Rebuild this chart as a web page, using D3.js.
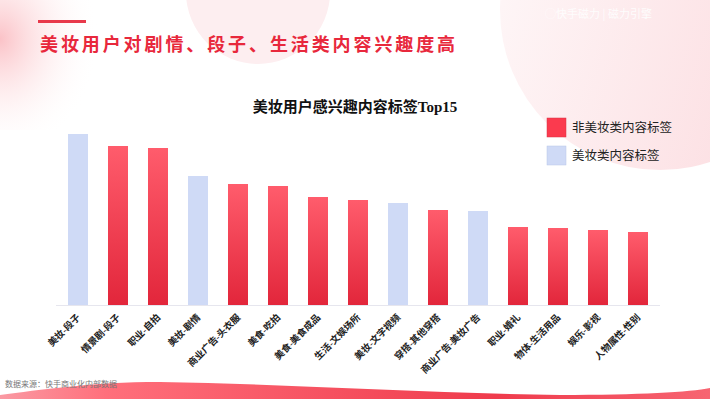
<!DOCTYPE html>
<html>
<head>
<meta charset="utf-8">
<script src="https://cdn.jsdelivr.net/npm/d3@7"></script>
<style>
  body { margin: 0; background: #fff; }
  svg { display: block; }
</style>
</head>
<body>
<div id="chart"></div>
<script>
// data (relative heights, no axis shown)
const categories = ["美妆-段子", "情景剧-段子", "职业-自拍", "美妆-剧情", "商业广告-头衣服", "美食-吃拍",
  "美食-美食成品", "生活-文娱场所", "美妆-文字视频", "穿搭-其他穿搭", "商业广告-美妆广告",
  "职业-婚礼", "物体-生活用品", "娱乐-影视", "人物属性-性别"];
const values = [171, 159, 157, 129, 121, 119, 108, 105, 102, 95, 94, 78, 77, 75, 73];
const isBeauty = [true, false, false, true, false, false, false, false, true, false, true, false, false, false, false];
const legendLabels = ["非美妆类内容标签", "美妆类内容标签"];

const W = 710, H = 399;
const svg = d3.select("#chart").append("svg").attr("width", W).attr("height", H);
const defs = svg.append("defs");

const redGrad = defs.append("linearGradient").attr("id", "redBar")
  .attr("x1", 0).attr("y1", 0).attr("x2", 0).attr("y2", 1);
redGrad.append("stop").attr("offset", "0%").attr("stop-color", "#ff5c6c");
redGrad.append("stop").attr("offset", "100%").attr("stop-color", "#e2263b");

const cornerL = defs.append("radialGradient").attr("id", "cornerL")
  .attr("cx", 0).attr("cy", 0.3).attr("r", 0.9);
cornerL.append("stop").attr("offset", "0%").attr("stop-color", "#fbc2c7");
cornerL.append("stop").attr("offset", "100%").attr("stop-color", "#fff").attr("stop-opacity", 0);

const cornerR = defs.append("linearGradient").attr("id", "cornerR")
  .attr("x1", 0).attr("y1", 0).attr("x2", 1).attr("y2", 0.3);
cornerR.append("stop").attr("offset", "0%").attr("stop-color", "#fef6f7");
cornerR.append("stop").attr("offset", "100%").attr("stop-color", "#fbd0d5");

const waveGrad = defs.append("linearGradient").attr("id", "wave")
  .attr("x1", 0).attr("y1", 0).attr("x2", 1).attr("y2", 0);
waveGrad.append("stop").attr("offset", "0%").attr("stop-color", "#fa9aa3");
waveGrad.append("stop").attr("offset", "15%").attr("stop-color", "#ff6f7b");
waveGrad.append("stop").attr("offset", "70%").attr("stop-color", "#ef3b4c");
waveGrad.append("stop").attr("offset", "100%").attr("stop-color", "#f76572");

// background decoration
svg.append("rect").attr("width", 110).attr("height", 130).attr("fill", "url(#cornerL)");
svg.append("circle").attr("cx", 258).attr("cy", -8).attr("r", 72).attr("fill", "#fdeef0");
svg.append("circle").attr("cx", 660).attr("cy", 10).attr("r", 160).attr("fill", "url(#cornerR)").attr("opacity", 0.7);

svg.append("path")
  .attr("d", "M0,399 L0,395 C40,390 90,382 160,382 C290,384 420,393 560,395 C640,395 690,392 710,388 L710,399 Z")
  .attr("fill", "url(#wave)");

// header
svg.append("rect").attr("x", 38).attr("y", 20).attr("width", 48).attr("height", 3).attr("fill", "#e8394b");
svg.append("text").attr("x", 40).attr("y", 51)
  .attr("font-family", "'Noto Sans CJK SC', sans-serif").attr("font-weight", "bold")
  .attr("font-size", 18).attr("letter-spacing", 2.9).attr("fill", "#e8283c")
  .text("美妆用户对剧情、段子、生活类内容兴趣度高");

// logo area (faint)
svg.append("text").attr("x", 545).attr("y", 18)
  .attr("font-family", "'Noto Sans CJK SC', sans-serif").attr("font-size", 11)
  .attr("fill", "#fff").attr("opacity", 0.9).text("◯快手磁力 | 磁力引擎");

svg.append("text").attr("x", 355).attr("y", 112).attr("text-anchor", "middle")
  .attr("font-family", "'Liberation Serif', 'Noto Sans CJK SC', serif").attr("font-weight", "bold")
  .attr("font-size", 15).attr("fill", "#111")
  .text("美妆用户感兴趣内容标签Top15");

// chart
const x = d3.scaleBand().domain(categories).range([58, 658]).paddingInner(0.5).paddingOuter(0.25);
const y = d3.scaleLinear().domain([0, 171]).range([305, 134]);

svg.append("line").attr("x1", 56).attr("x2", 660).attr("y1", 305.5).attr("y2", 305.5)
  .attr("stroke", "#e6e6ee").attr("stroke-width", 1);

svg.selectAll(".bar").data(values).enter().append("rect")
  .attr("class", "bar")
  .attr("x", (d, i) => x(categories[i]))
  .attr("y", d => y(d))
  .attr("width", x.bandwidth())
  .attr("height", d => y(0) - y(d))
  .attr("fill", (d, i) => isBeauty[i] ? "#cfdaf6" : "url(#redBar)");

const xAxis = svg.append("g").attr("transform", "translate(0,305)")
  .call(d3.axisBottom(x).tickSize(0).tickPadding(0));
xAxis.select(".domain").remove();
xAxis.selectAll("text")
  .attr("font-family", "'Liberation Serif', 'Noto Sans CJK SC', serif").attr("font-weight", "bold")
  .attr("font-size", 9.5).attr("fill", "#222")
  .attr("text-anchor", "end").attr("dy", "0")
  .attr("transform", "translate(3,13) rotate(-45)");

// legend
const legend = svg.append("g").attr("transform", "translate(547,118)");
legendLabels.forEach((t, i) => {
  legend.append("rect").attr("x", 0).attr("y", i * 28).attr("width", 19).attr("height", 19)
    .attr("fill", i === 0 ? "#fb3a4e" : "#cfdaf6")
    .attr("stroke", i === 0 ? "#d83445" : "#b9c6e8").attr("stroke-width", 0.5);
  legend.append("text").attr("x", 25).attr("y", i * 28 + 14)
    .attr("font-family", "'Liberation Serif', 'Noto Sans CJK SC', serif")
    .attr("font-size", 12.5).attr("fill", "#222").text(t);
});

svg.append("text").attr("x", 5).attr("y", 387)
  .attr("font-family", "'Noto Sans CJK SC', sans-serif").attr("font-size", 8)
  .attr("fill", "#777").text("数据来源：快手商业化内部数据");
</script>
</body>
</html>
